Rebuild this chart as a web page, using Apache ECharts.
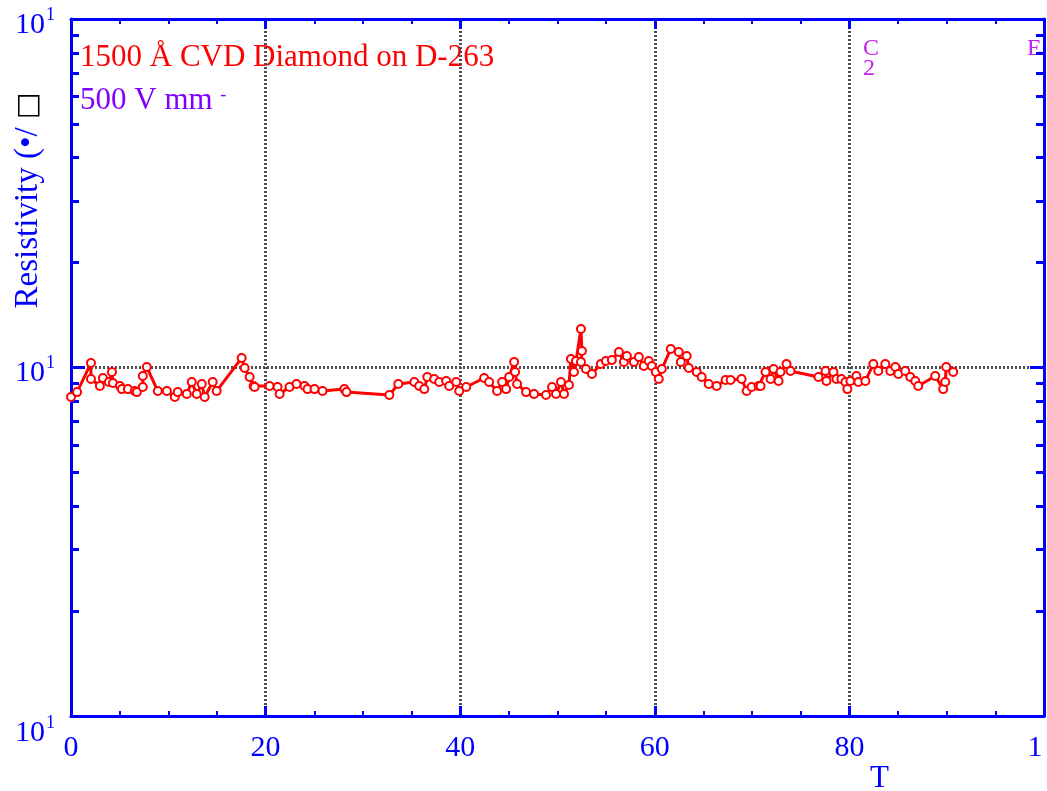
<!DOCTYPE html>
<html>
<head>
<meta charset="utf-8">
<title>Resistivity vs T</title>
<script src="https://cdn.jsdelivr.net/npm/echarts@6.0.0/dist/echarts.min.js"></script>
<style>
  html, body { margin: 0; padding: 0; background: #fff; }
  #chart { width: 1047px; height: 791px; }
</style>
</head>
<body>
<div id="chart"></div>
<script>
// values
const tValues = [
  0.0, 0.62, 2.05, 2.05, 2.97, 3.28, 3.90, 4.21, 4.31, 5.03,
  5.23, 5.85, 6.56, 6.77, 7.38, 7.38, 7.79, 8.92, 9.85, 10.67,
  10.97, 11.90, 12.41, 12.92, 13.44, 13.74, 14.56, 14.97, 17.54, 17.85,
  18.36, 18.77, 18.87, 20.41, 21.23, 21.44, 22.46, 23.18, 24.00, 24.31,
  25.03, 25.85, 28.10, 28.31, 32.72, 33.64, 35.28, 35.79, 36.31, 36.62,
  37.33, 37.85, 38.56, 38.87, 39.59, 39.90, 40.62, 42.46, 42.97, 43.79,
  44.31, 44.72, 45.03, 45.54, 45.64, 45.85, 46.77, 47.59, 48.82, 49.44,
  49.85, 50.36, 50.67, 51.18, 51.38, 51.69, 51.90, 52.41, 52.51, 52.41,
  52.92, 53.54, 54.46, 54.97, 55.59, 56.31, 56.82, 57.13, 57.85, 58.36,
  58.87, 59.38, 59.69, 60.10, 60.41, 60.72, 61.64, 62.46, 62.67, 63.28,
  63.49, 64.31, 64.82, 65.54, 66.36, 67.28, 67.79, 68.92, 69.44, 69.95,
  70.67, 70.87, 71.38, 71.90, 72.21, 72.72, 72.92, 73.54, 73.95, 76.82,
  77.54, 77.64, 78.36, 78.67, 79.18, 79.59, 79.79, 80.10, 80.72, 80.92,
  81.64, 82.46, 82.97, 83.69, 84.21, 84.72, 85.03, 85.74, 86.26, 86.77,
  87.08, 88.82, 89.64, 89.85, 89.95, 90.67
];
const resistivity = [
  8.23, 8.50, 10.30, 9.27, 8.85, 9.33, 9.09, 9.71, 9.03, 8.85,
  8.67, 8.67, 8.56, 8.50, 8.79, 9.45, 10.03, 8.56, 8.56, 8.23,
  8.50, 8.39, 9.09, 8.39, 8.97, 8.23, 9.09, 8.56, 10.65, 9.97,
  9.39, 8.85, 8.79, 8.85, 8.79, 8.39, 8.79, 8.97, 8.85, 8.67,
  8.67, 8.56, 8.67, 8.50, 8.34, 8.97, 9.09, 8.85, 8.67, 9.39,
  9.27, 9.09, 9.15, 8.85, 9.09, 8.56, 8.79, 9.33, 9.09, 8.56,
  9.09, 8.67, 9.39, 10.37, 9.71, 8.97, 8.50, 8.39, 8.34, 8.79,
  8.39, 9.09, 8.39, 8.91, 10.58, 9.71, 10.44, 12.90, 11.15, 10.37,
  9.90, 9.58, 10.23, 10.44, 10.51, 11.08, 10.37, 10.79, 10.37, 10.72,
  10.10, 10.44, 10.10, 9.71, 9.27, 9.90, 11.30, 11.08, 10.37, 10.79,
  9.97, 9.71, 9.39, 8.97, 8.85, 9.21, 9.21, 9.27, 8.56, 8.79,
  8.85, 8.85, 9.71, 9.27, 9.90, 9.15, 9.71, 10.23, 9.77, 9.39,
  9.77, 9.15, 9.71, 9.27, 9.27, 9.09, 8.67, 9.15, 9.45, 9.09,
  9.15, 10.23, 9.77, 10.23, 9.77, 10.03, 9.58, 9.77, 9.39, 9.15,
  8.85, 9.45, 8.67, 9.09, 10.03, 9.71
];

// tick labels as printed on the original
const xTickValues = [0, 20, 40, 60, 80, 100];
const xTickLabels = ['0', '20', '40', '60', '80', '1'];
const yMinorTicks = [2, 3, 4, 5, 6, 7, 8, 9, 20, 30, 40, 50, 60, 70, 80, 90];
const yTickBase = '10';
const yTickExp = '1';

const titleText = '1500 Å CVD Diamond on D-263';
const fieldText = '500 V mm';

const serif = '"Liberation Serif", "Times New Roman", serif';
const axisBlue = '#0000ff';

const chart = echarts.init(document.getElementById('chart'));

const gridLine = { show: true, lineStyle: { color: '#505050', width: 3, type: [2, 2] } };
const blueLine = { show: true, onZero: false, lineStyle: { color: axisBlue, width: 3 } };

const xAxisBase = {
  type: 'value',
  min: 0,
  max: 100,
  interval: 20,
  axisLine: blueLine,
  axisTick: { show: true, inside: true, length: 10, lineStyle: { color: axisBlue, width: 3 } },
  minorTick: { show: true, splitNumber: 4, length: 5, lineStyle: { color: axisBlue, width: 2 } }
};

const yMajor = (pos, withLabels) => ({
  type: 'log',
  logBase: 10,
  min: 1,
  max: 100,
  position: pos,
  axisLine: blueLine,
  axisTick: { show: true, inside: true, length: 14, lineStyle: { color: axisBlue, width: 3 } },
  axisLabel: withLabels ? {
    show: true,
    margin: 16,
    // the lowest label sits a little lower in the original
    formatter: (v) => v === 1
      ? '{bl|' + yTickBase + '}{e|' + yTickExp + '}'
      : '{b|' + yTickBase + '}{e|' + yTickExp + '}',
    rich: {
      b: { color: axisBlue, fontFamily: serif, fontSize: 30, padding: [12, 0, 0, 0] },
      bl: { color: axisBlue, fontFamily: serif, fontSize: 30, padding: [34, 0, 0, 0] },
      e: { color: axisBlue, fontFamily: serif, fontSize: 18, padding: [0, 0, 16, 1], verticalAlign: 'bottom' }
    }
  } : { show: false },
  splitLine: withLabels ? gridLine : { show: false }
});

const yMinor = (pos) => ({
  type: 'log',
  logBase: 10,
  min: 1,
  max: 100,
  position: pos,
  axisLine: { show: false, onZero: false },
  axisTick: { show: true, inside: true, length: 8, customValues: yMinorTicks, lineStyle: { color: axisBlue, width: 3 } },
  axisLabel: { show: false },
  splitLine: { show: false }
});

const leftAxis = yMajor('left', true);
leftAxis.name = '{n|Resistivity (•/ }{box|□}';
leftAxis.nameLocation = 'middle';
leftAxis.nameGap = 26;
leftAxis.nameMoveOverlap = false;
leftAxis.nameTextStyle = {
  padding: [0, 0, 0, 334],
  rich: {
    n: { color: axisBlue, fontFamily: serif, fontSize: 33 },
    box: { color: '#000', fontFamily: 'DejaVu Sans', fontSize: 28, fontWeight: 'bold' }
  }
};

const option = {
  animation: false,
  backgroundColor: '#fff',
  grid: { left: 71, right: 3, top: 19, bottom: 75, containLabel: false, outerBoundsMode: 'none' },
  xAxis: [
    Object.assign({}, xAxisBase, {
      position: 'bottom',
      axisLabel: {
        margin: 17,
        color: axisBlue,
        fontFamily: serif,
        fontSize: 30,
        formatter: (v) => {
          const label = xTickLabels[xTickValues.indexOf(v)];
          return v === 100 ? '{cut|' + label + '}' : label;
        },
        rich: { cut: { color: axisBlue, fontFamily: serif, fontSize: 30, padding: [0, 18, 0, 0] } }
      },
      splitLine: gridLine,
      name: 'T',
      nameLocation: 'middle',
      nameGap: 47,
      nameMoveOverlap: false,
      nameTextStyle: { color: axisBlue, fontFamily: serif, fontSize: 31, padding: [0, 0, 0, 644] }
    }),
    Object.assign({}, xAxisBase, {
      position: 'top',
      axisLabel: { show: false },
      splitLine: { show: false }
    })
  ],
  yAxis: [leftAxis, yMinor('left'), yMajor('right', false), yMinor('right')],
  graphic: [
    {
      type: 'text', left: 80, top: 42,
      style: { text: titleText, fill: '#ff0000', font: '31px ' + serif }
    },
    {
      type: 'text', left: 80, top: 85,
      style: {
        text: '{m|' + fieldText + ' }{s|-}',
        rich: {
          m: { fill: '#8000ff', fontFamily: serif, fontSize: 31 },
          s: { fill: '#8000ff', fontFamily: serif, fontSize: 18, padding: [0, 0, 12, 0], verticalAlign: 'bottom' }
        }
      }
    },
    { type: 'text', left: 863, top: 37, style: { text: 'C', fill: '#c020f0', font: '24px ' + serif } },
    { type: 'text', left: 863, top: 57, style: { text: '2', fill: '#c020f0', font: '24px ' + serif } },
    { type: 'text', left: 1027, top: 37, style: { text: 'E', fill: '#c020f0', font: '24px ' + serif } }
  ],
  series: [
    {
      type: 'line',
      data: tValues.map((t, i) => [t, resistivity[i]]),
      xAxisIndex: 0,
      yAxisIndex: 0,
      symbol: 'emptyCircle',
      symbolSize: 8,
      lineStyle: { color: '#ff0000', width: 3 },
      itemStyle: { color: '#ff0000', borderColor: '#ff0000', borderWidth: 2.5 }
    }
  ]
};

chart.setOption(option);
</script>
</body>
</html>
